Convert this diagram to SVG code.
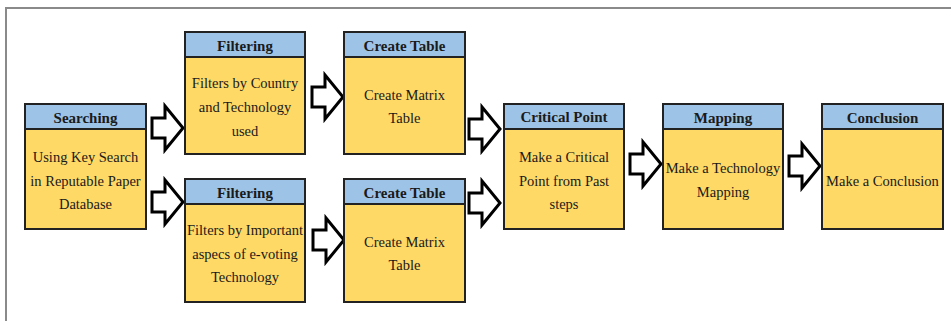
<svg xmlns="http://www.w3.org/2000/svg" width="951" height="321" viewBox="0 0 951 321">
<style>
.hd{fill:#9DC3E6;stroke:#222;stroke-width:2}
.bd{fill:#FFD966;stroke:#222;stroke-width:2}
text{font-family:'Liberation Serif','Times New Roman','DejaVu Serif',serif;fill:#1a1a1a;text-anchor:middle}
.ht{font-weight:bold;font-size:15px}
.bt{font-size:14.5px}
.ar{fill:#fff;stroke:#000;stroke-width:3;stroke-linejoin:miter}
</style>
<defs>
<path id="arr" class="ar" d="M0,-10 H13 V-22 L31,0 L13,22 V10 H0 Z"/>
</defs>
<rect width="951" height="321" fill="#fff"/>
<path d="M6,321 V8 H951" fill="none" stroke="#8a8a8a" stroke-width="2"/>
<g id="connectors">
<use href="#arr" transform="translate(152,128)"/>
<use href="#arr" transform="translate(152,202)"/>
<use href="#arr" transform="translate(312,97)"/>
<use href="#arr" transform="translate(313,240)"/>
<use href="#arr" transform="translate(469,129)"/>
<use href="#arr" transform="translate(469,203)"/>
<use href="#arr" transform="translate(630,164)"/>
<use href="#arr" transform="translate(789,166)"/>
</g>
<g id="searching">
<rect class="bd" x="25" y="104" width="121" height="125"/>
<rect class="hd" x="25" y="104" width="121" height="25"/>
<text class="ht" x="85.5" y="123">Searching</text>
<text class="bt" x="85.5" y="162">Using Key Search</text>
<text class="bt" x="85.5" y="186">in Reputable Paper</text>
<text class="bt" x="85.5" y="209">Database</text>
</g>
<g id="filtering1">
<rect class="bd" x="185" y="32" width="120" height="122"/>
<rect class="hd" x="185" y="32" width="120" height="25"/>
<text class="ht" x="245" y="51">Filtering</text>
<text class="bt" x="245" y="88">Filters by Country</text>
<text class="bt" x="245" y="112">and Technology</text>
<text class="bt" x="245" y="136">used</text>
</g>
<g id="filtering2">
<rect class="bd" x="185" y="179" width="120" height="123"/>
<rect class="hd" x="185" y="179" width="120" height="25"/>
<text class="ht" x="245" y="198">Filtering</text>
<text class="bt" x="245" y="235">Filters by Important</text>
<text class="bt" x="245" y="259">aspecs of e-voting</text>
<text class="bt" x="245" y="282">Technology</text>
</g>
<g id="createtable1">
<rect class="bd" x="344" y="32" width="121" height="122"/>
<rect class="hd" x="344" y="32" width="121" height="25"/>
<text class="ht" x="404.5" y="51">Create Table</text>
<text class="bt" x="404.5" y="100">Create Matrix</text>
<text class="bt" x="404.5" y="123">Table</text>
</g>
<g id="createtable2">
<rect class="bd" x="344" y="179" width="121" height="123"/>
<rect class="hd" x="344" y="179" width="121" height="25"/>
<text class="ht" x="404.5" y="198">Create Table</text>
<text class="bt" x="404.5" y="247">Create Matrix</text>
<text class="bt" x="404.5" y="270">Table</text>
</g>
<g id="criticalpoint">
<rect class="bd" x="504" y="104" width="120" height="125"/>
<rect class="hd" x="504" y="104" width="120" height="25"/>
<text class="ht" x="564" y="122">Critical Point</text>
<text class="bt" x="564" y="162">Make a Critical</text>
<text class="bt" x="564" y="186">Point from Past</text>
<text class="bt" x="564" y="209">steps</text>
</g>
<g id="mapping">
<rect class="bd" x="663" y="104" width="120" height="125"/>
<rect class="hd" x="663" y="104" width="120" height="25"/>
<text class="ht" x="723" y="123">Mapping</text>
<text class="bt" x="723" y="173">Make a Technology</text>
<text class="bt" x="723" y="197">Mapping</text>
</g>
<g id="conclusion">
<rect class="bd" x="822" y="104" width="121" height="125"/>
<rect class="hd" x="822" y="104" width="121" height="25"/>
<text class="ht" x="882.5" y="123">Conclusion</text>
<text class="bt" x="882.5" y="186">Make a Conclusion</text>
</g>
</svg>
